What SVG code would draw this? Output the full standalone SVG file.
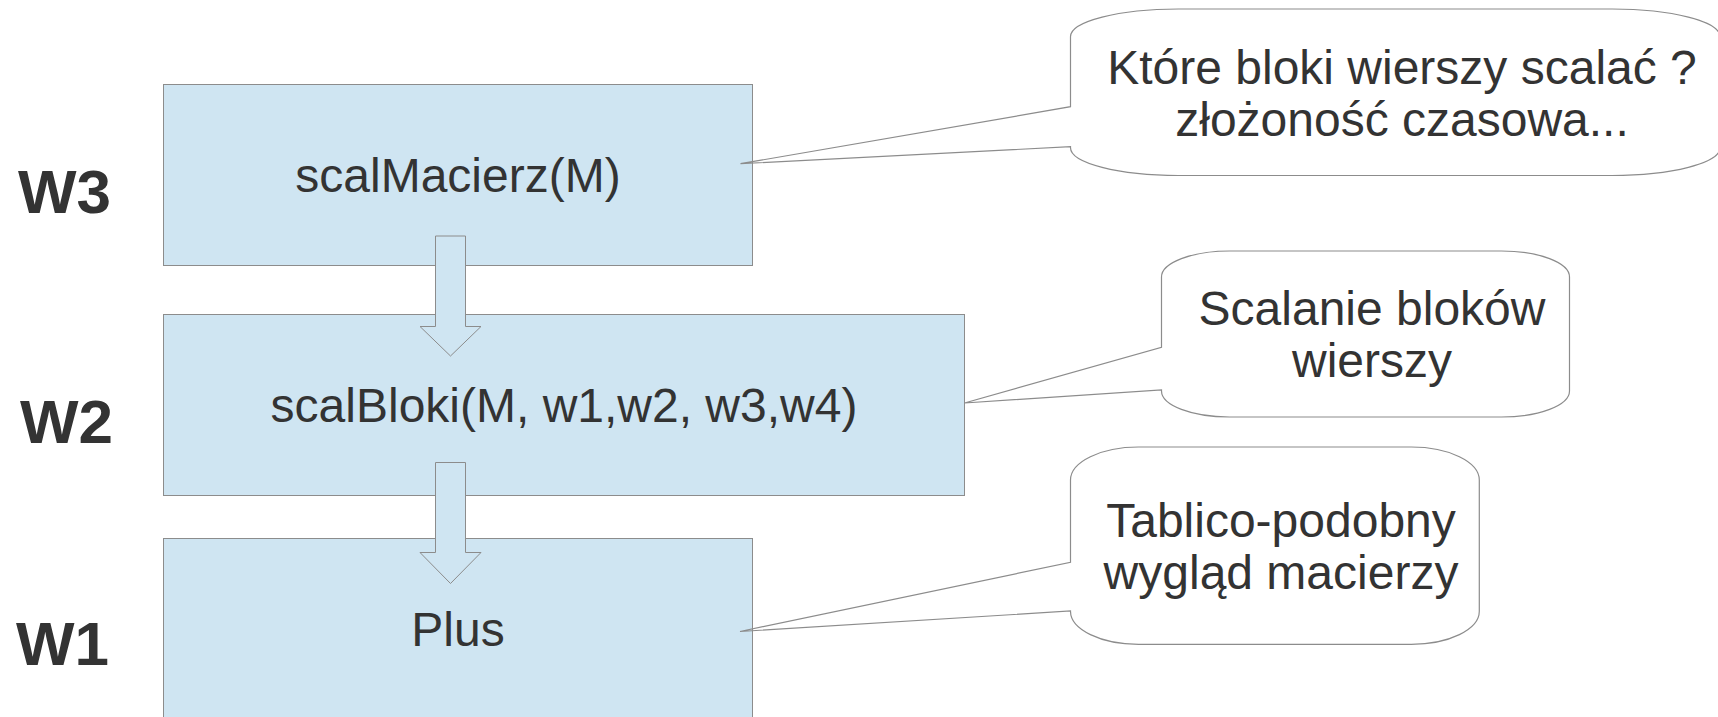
<svg xmlns="http://www.w3.org/2000/svg" width="1718" height="717" viewBox="0 0 1718 717">
  <style>
    .box { fill: #cfe5f2; stroke: #8c8c8c; stroke-width: 1; }
    .arrow { fill: #cfe5f2; stroke: #8c8c8c; stroke-width: 1; stroke-linejoin: miter; }
    .callout { fill: none; stroke: #8c8c8c; stroke-width: 1.2; }
    .label { font-family: "Liberation Sans", Arial, sans-serif; font-size: 48px; fill: #333333; text-anchor: middle; }
    .level { font-family: "Liberation Sans", Arial, sans-serif; font-size: 62px; font-weight: bold; fill: #333333; }
  </style>
  <rect width="1718" height="717" fill="#ffffff"/>

  <!-- level markers -->
  <g id="level-w3"><text class="level" x="18" y="213">W3</text></g>
  <g id="level-w2"><text class="level" x="20" y="443">W2</text></g>
  <g id="level-w1"><text class="level" x="16" y="665">W1</text></g>

  <!-- function blocks -->
  <g id="node-scalMacierz">
    <rect class="box" x="163.5" y="84.5" width="589" height="181"/>
    <text class="label" x="458" y="192">scalMacierz(M)</text>
  </g>
  <g id="node-scalBloki">
    <rect class="box" x="163.5" y="314.5" width="801" height="181"/>
    <text class="label" x="564" y="422">scalBloki(M, w1,w2, w3,w4)</text>
  </g>
  <g id="node-plus">
    <rect class="box" x="163.5" y="538.5" width="589" height="190"/>
    <text class="label" x="458" y="646">Plus</text>
  </g>

  <!-- call arrows between blocks -->
  <g id="connectors">
    <polygon class="arrow" points="435.5,236 465.5,236 465.5,326.5 481,326.5 450.5,356 420,326.5 435.5,326.5"/>
    <polygon class="arrow" points="435.5,462.5 465.5,462.5 465.5,552.5 481,552.5 450.5,583.5 420,552.5 435.5,552.5"/>
  </g>

  <!-- comment bubbles -->
  <g id="note-scalMacierz">
    <path class="callout" d="M1178.5,9 H1612 A108,27.7 0 0 1 1720,36.7 V147.8 A108,27.7 0 0 1 1612,175.5 H1178.5 A108,27.7 0 0 1 1070.5,147.8 V146.7 L740.5,163.7 L1070.5,106.7 V36.7 A108,27.7 0 0 1 1178.5,9 Z"/>
    <text class="label" x="1402" y="84">Które bloki wierszy scalać ? </text>
    <text class="label" x="1402" y="136">złożoność czasowa...</text>
  </g>
  <g id="note-scalBloki">
    <path class="callout" d="M1229.5,251 H1501.5 A68,26 0 0 1 1569.5,277 V391 A68,26 0 0 1 1501.5,417 H1229.5 A68,26 0 0 1 1161.5,391 V390 L964.5,403 L1161.5,347.3 V277 A68,26 0 0 1 1229.5,251 Z"/>
    <text class="label" x="1372" y="325">Scalanie bloków </text>
    <text class="label" x="1372" y="377">wierszy</text>
  </g>
  <g id="note-plus">
    <path class="callout" d="M1138.5,447 H1411.3 A68,33 0 0 1 1479.3,480 V611.3 A68,33 0 0 1 1411.3,644.3 H1138.5 A68,33 0 0 1 1070.5,611.3 V611 L740,631.5 L1070.5,562.3 V480 A68,33 0 0 1 1138.5,447 Z"/>
    <text class="label" x="1281" y="537">Tablico-podobny </text>
    <text class="label" x="1281" y="589">wygląd macierzy</text>
  </g>
</svg>
